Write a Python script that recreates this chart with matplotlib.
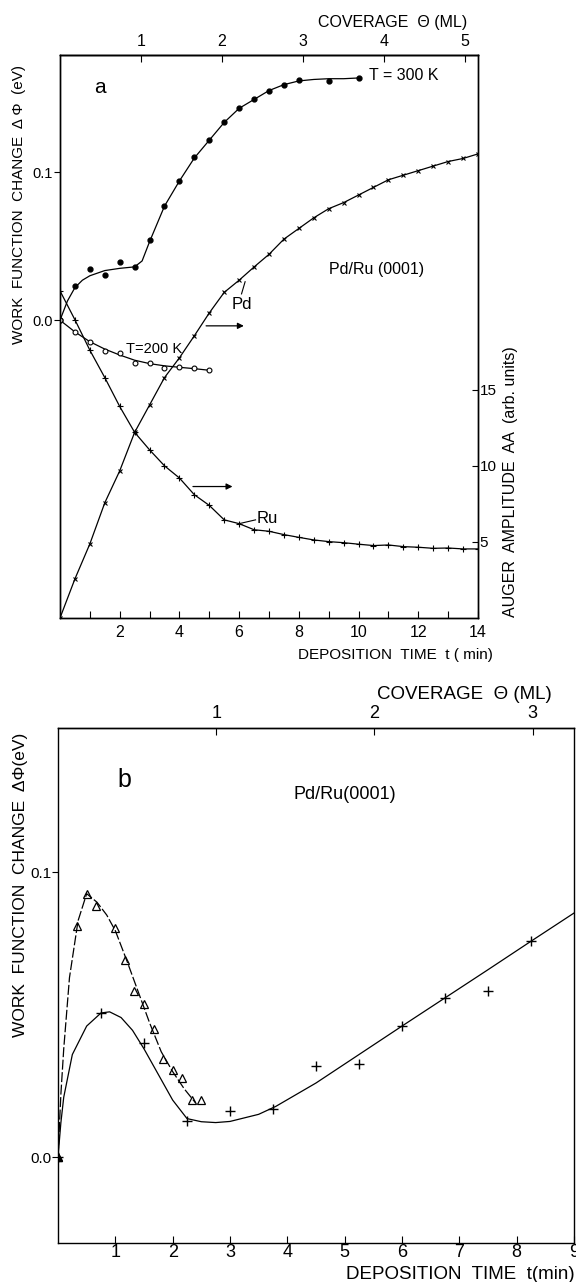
from matplotlib import pyplot as plt

plt.rcParams['font.family'] = ['Liberation Sans', 'DejaVu Sans']
plt.rcParams['font.size'] = 11
plt.rcParams['axes.linewidth'] = 1.0

# ---- panel a: work function and Auger amplitude vs deposition time ----
t300 = [0, 0.5, 1, 1.5, 2, 2.5, 3, 3.5, 4, 4.5, 5, 5.5, 6, 6.5, 7, 7.5, 8, 9, 10]
phi300 = [0.0, 0.0232, 0.0345, 0.0304, 0.039, 0.036, 0.054, 0.077, 0.094, 0.110,
          0.1216, 0.1336, 0.143, 0.149, 0.155, 0.159, 0.162, 0.1617, 0.1635]
# hand-drawn guide curve through the 300 K points
t300_fit = [0, 0.25, 0.5, 0.75, 1, 1.5, 2, 2.5, 2.75, 3, 3.5, 4, 4.5, 5, 5.5, 6,
            6.5, 7, 7.5, 8, 8.5, 9, 9.5, 10]
phi300_fit = [0.0, 0.013, 0.022, 0.027, 0.030, 0.0335, 0.035, 0.036, 0.040, 0.053,
              0.077, 0.094, 0.1095, 0.1215, 0.1335, 0.143, 0.149, 0.155, 0.159,
              0.1615, 0.1625, 0.163, 0.163, 0.1635]

t200 = [0, 0.5, 1, 1.5, 2, 2.5, 3, 3.5, 4, 4.5, 5]
phi200 = [0.0, -0.0079, -0.0146, -0.021, -0.0218, -0.0286, -0.029, -0.032,
          -0.0315, -0.032, -0.0338]
t200_fit = [0, 0.5, 1, 1.5, 2, 2.5, 3, 3.5, 4, 4.5, 5]
phi200_fit = [0.0, -0.0079, -0.0145, -0.0195, -0.0235, -0.027, -0.0293, -0.0308,
              -0.0318, -0.0327, -0.0338]

t_pd = [0, 0.5, 1, 1.5, 2, 2.5, 3, 3.5, 4, 4.5, 5, 5.5, 6, 6.5, 7, 7.5, 8, 8.5, 9,
        9.5, 10, 10.5, 11, 11.5, 12, 12.5, 13, 13.5, 14]
aa_pd = [0.0, 2.57, 4.87, 7.57, 9.67, 12.2, 14.0, 15.8, 17.1, 18.55, 20.05, 21.4,
         22.2, 23.07, 23.9, 24.9, 25.6, 26.3, 26.9, 27.3, 27.8, 28.3, 28.8, 29.1,
         29.4, 29.7, 30.0, 30.2, 30.5]

t_ru = [0, 0.5, 1, 1.5, 2, 2.5, 3, 3.5, 4, 4.5, 5, 5.5, 6, 6.5, 7, 7.5, 8, 8.5, 9,
        9.5, 10, 10.5, 11, 11.5, 12, 12.5, 13, 13.5, 14]
aa_ru = [21.5, 19.6, 17.6, 15.8, 13.9, 12.2, 11.05, 10.0, 9.2, 8.1, 7.4, 6.45, 6.2,
         5.8, 5.7, 5.48, 5.3, 5.13, 5.02, 4.95, 4.85, 4.76, 4.8, 4.69, 4.65, 4.58,
         4.6, 4.54, 4.54]

# ---- panel b: work function at low coverage ----
t_tri = [0, 0.33, 0.5, 0.67, 1.0, 1.17, 1.33, 1.5, 1.67, 1.83, 2.0, 2.17, 2.33, 2.5]
phi_tri = [0.0, 0.0811, 0.0925, 0.0881, 0.0803, 0.0692, 0.0584, 0.0539, 0.0451,
           0.0345, 0.0307, 0.0276, 0.0202, 0.0202]
t_tri_fit = [0, 0.05, 0.1, 0.2, 0.35, 0.5, 0.68, 0.85, 1.0, 1.2, 1.4, 1.6, 1.8, 2.0,
             2.2, 2.4]
phi_tri_fit = [0.0, 0.022, 0.038, 0.063, 0.083, 0.0925, 0.0895, 0.085, 0.0795, 0.069,
               0.058, 0.047, 0.037, 0.030, 0.024, 0.019]

t_plus = [0, 0.75, 1.5, 2.25, 3.0, 3.75, 4.5, 5.25, 6.0, 6.75, 7.5, 8.25]
phi_plus = [0.0, 0.0506, 0.0399, 0.0126, 0.0162, 0.017, 0.0321, 0.0327, 0.046,
            0.0559, 0.0584, 0.0758]
t_plus_fit = [0, 0.05, 0.1, 0.25, 0.5, 0.75, 0.9, 1.1, 1.3, 1.5, 1.75, 2.0, 2.25,
              2.5, 2.75, 3.0, 3.5, 3.8, 4.5, 5.25, 6.0, 6.75, 7.5, 8.25, 9.0]
phi_plus_fit = [0.0, 0.012, 0.021, 0.036, 0.046, 0.0506, 0.051, 0.049, 0.0445, 0.038,
                0.029, 0.020, 0.0135, 0.0124, 0.0121, 0.0125, 0.015, 0.0178, 0.026,
                0.036, 0.046, 0.0559, 0.0658, 0.0758, 0.0857]

W, H = 576, 1282
fig = plt.figure(figsize=(W / 100, H / 100), dpi=100)


def px(x, y):
    return x / W, 1 - y / H


lw = 0.9

# ================= panel a =================
ax = fig.add_axes([60 / W, 1 - 618 / H, 418 / W, 563 / H])
ax.plot(t300_fit, phi300_fit, color='black', lw=lw)
ax.plot(t300, phi300, 'o', color='black', ms=3.5)
ax.plot(t200_fit, phi200_fit, color='black', lw=lw)
ax.plot(t200, phi200, 'o', mfc='white', mec='black', ms=3.5, mew=0.8)
ax.set_xlim(0, 14)
ax.set_ylim(-0.201, 0.179)
ax.set_xticks(range(1, 15))
ax.set_xticklabels([str(i) if i % 2 == 0 else '' for i in range(1, 15)])
ax.tick_params(axis='x', direction='in', length=5, pad=5, labelsize=11.5)
ax.set_yticks([0.0, 0.1])
ax.set_yticklabels(['0.0', '0.1'])
ax.tick_params(axis='y', direction='out', length=4, pad=1, labelsize=10.5)

ax.text(1.35, 0.157, 'a', fontsize=15, ha='center', va='center')
ax.text(10.35, 0.1655, 'T = 300 K', fontsize=11.5, ha='left', va='center')
ax.text(2.2, -0.0191, 'T=200 K', fontsize=10.5, ha='left', va='center')
ax.text(9.0, 0.034, 'Pd/Ru (0001)', fontsize=11.5, ha='left', va='center')

ax2 = ax.twinx()
ax2.plot(t_pd, aa_pd, color='black', lw=lw, marker='x', ms=3.5, mew=0.8)
ax2.plot(t_ru, aa_ru, color='black', lw=lw, marker='+', ms=4.5, mew=0.8)
ax2.set_ylim(0, 37)
ax2.set_yticks([5, 10, 15])
ax2.tick_params(axis='y', direction='in', length=4, pad=1, labelsize=11)

ax2.annotate('', xy=(6.25, 19.2), xytext=(4.8, 19.2),
             arrowprops=dict(arrowstyle='-|>', color='black', lw=lw,
                             mutation_scale=9))
ax2.annotate('', xy=(5.87, 8.64), xytext=(4.36, 8.64),
             arrowprops=dict(arrowstyle='-|>', color='black', lw=lw,
                             mutation_scale=9))
ax2.text(6.08, 20.6, 'Pd', fontsize=12, ha='center', va='center')
ax2.plot([6.08, 6.2], [21.3, 22.1], color='black', lw=0.8)
ax2.text(6.95, 6.56, 'Ru', fontsize=12, ha='center', va='center')
ax2.plot([6.0, 6.55], [6.2, 6.45], color='black', lw=0.8)

top = ax.secondary_xaxis('top', functions=(lambda t: t / 2.71, lambda c: c * 2.71))
top.set_xticks([1, 2, 3, 4, 5])
top.tick_params(direction='in', length=5, pad=4, labelsize=11.5)

fig.text(*px(393, 22), 'COVERAGE  Θ (ML)', ha='center', va='center', fontsize=11.5)
fig.text(*px(395, 655), 'DEPOSITION  TIME  t ( min)', ha='center', va='center',
         fontsize=11)
fig.text(*px(19, 204), 'WORK  FUNCTION  CHANGE  Δ Φ  (eV)', rotation=90,
         ha='center', va='center', fontsize=11)
fig.text(*px(511, 482), 'AUGER  AMPLITUDE  AA  (arb. units)', rotation=90,
         ha='center', va='center', fontsize=11.5)

# ================= panel b =================
bx = fig.add_axes([58 / W, 1 - 1243 / H, 516 / W, 515 / H])
bx.plot(t_tri_fit, phi_tri_fit, color='black', lw=lw, dashes=(8, 2))
bx.plot(t_tri, phi_tri, '^', mfc='none', mec='black', ms=5.5, mew=0.9)
bx.plot([0], [0], '^', color='black', ms=5.5)
bx.plot(t_plus_fit, phi_plus_fit, color='black', lw=lw)
bx.plot(t_plus, phi_plus, '+', color='black', ms=6.5, mew=1.0)
bx.set_xlim(0, 9)
bx.set_ylim(-0.0302, 0.1507)
bx.set_xticks(range(1, 10))
bx.tick_params(axis='x', direction='in', length=5, pad=1, labelsize=13)
bx.set_yticks([0.0, 0.1])
bx.set_yticklabels(['0.0', '0.1'])
bx.tick_params(axis='y', direction='out', length=4, pad=1, labelsize=11)

bx.text(1.15, 0.1325, 'b', fontsize=18, ha='center', va='center')
bx.text(5.0, 0.1275, 'Pd/Ru(0001)', fontsize=13, ha='center', va='center')

btop = bx.secondary_xaxis('top', functions=(lambda t: t / 2.76, lambda c: c * 2.76))
btop.set_xticks([1, 2, 3])
btop.tick_params(direction='in', length=5, pad=4, labelsize=13)

fig.text(*px(464, 695), 'COVERAGE  Θ (ML)', ha='center', va='center', fontsize=13.5)
fig.text(*px(575, 1279), 'DEPOSITION  TIME  t(min)', ha='right', va='baseline',
         fontsize=13.5)
fig.text(*px(21, 885), 'WORK  FUNCTION  CHANGE  ΔΦ(eV)', rotation=90,
         ha='center', va='center', fontsize=12.5)

fig.savefig('out.png', dpi=100)
